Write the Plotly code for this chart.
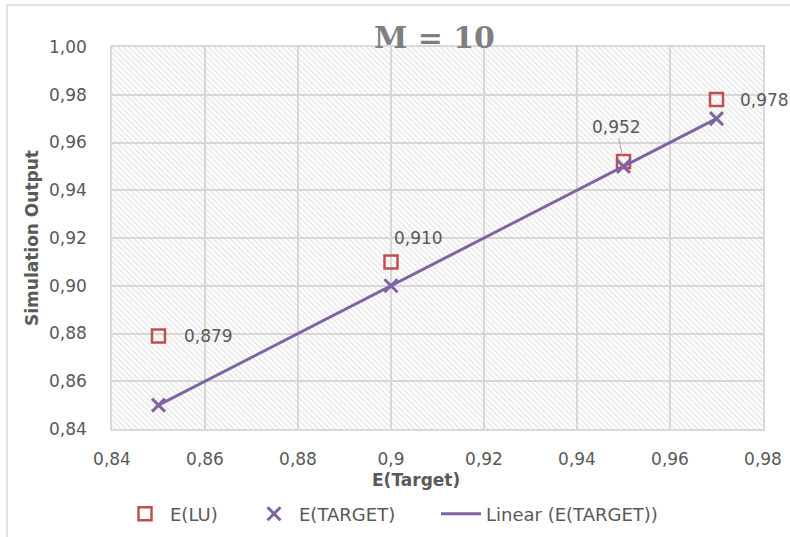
import plotly.graph_objects as go

# Expected value on the x axis, simulated outputs on the y axis
e_target = [0.85, 0.90, 0.95, 0.97]
e_lu = [0.879, 0.910, 0.952, 0.978]
e_target_out = [0.85, 0.90, 0.95, 0.97]

x_ticks = [0.84, 0.86, 0.88, 0.90, 0.92, 0.94, 0.96, 0.98]
x_tick_text = ["0,84", "0,86", "0,88", "0,9", "0,92", "0,94", "0,96", "0,98"]
y_ticks = [0.84, 0.86, 0.88, 0.90, 0.92, 0.94, 0.96, 0.98, 1.00]
y_tick_text = ["0,84", "0,86", "0,88", "0,90", "0,92", "0,94", "0,96", "0,98", "1,00"]

x_range = [0.84, 0.98]
y_range = [0.84, 1.00]

FONT = "DejaVu Sans"
TXT = "#595959"
GRID = "#d9d9d9"
RED = "#c0504d"
PURPLE = "#8064a2"

L, R, T, B = 112, 27, 47, 108
W, H = 790, 537
PW, PH = W - L - R, H - T - B


def px(xp):
    return (xp - L) / PW


def py(yp):
    return (H - B - yp) / PH


fig = go.Figure()

# hatched plot-area background
fig.add_trace(go.Scatter(
    x=[x_range[0], x_range[1], x_range[1], x_range[0], x_range[0]],
    y=[y_range[0], y_range[0], y_range[1], y_range[1], y_range[0]],
    mode="lines", line=dict(width=0), fill="toself",
    fillcolor="rgba(0,0,0,0)",
    fillpattern=dict(shape="\\", fgcolor="#cccccc", bgcolor="rgba(0,0,0,0)",
                     size=4, solidity=0.35),
    showlegend=False, hoverinfo="skip",
))

fig.add_trace(go.Scatter(
    x=e_target, y=e_lu, mode="markers", name="E(LU)", legend="legend",
    marker=dict(symbol="square-open", size=13, color=RED, line=dict(width=2.5, color=RED)),
))
fig.add_trace(go.Scatter(
    x=e_target, y=e_target_out, mode="markers", name="E(TARGET)", legend="legend2",
    marker=dict(symbol="x-thin-open", size=13, color=PURPLE, line=dict(width=3, color=PURPLE)),
))
# linear trendline through the E(TARGET) points (slope 1, intercept 0)
trend_x = [e_target[0], e_target[-1]]
trend_y = [e_target_out[0], e_target_out[-1]]
fig.add_trace(go.Scatter(
    x=trend_x, y=trend_y, mode="lines", name="Linear (E(TARGET))", legend="legend3",
    line=dict(color=PURPLE, width=3),
))

# value labels for E(LU)
offsets = [(50, 0), (27, 24), (-7, 35), (48, 0)]
for xv, yv, (dx, dy) in zip(e_target, e_lu, offsets):
    txt = f"{yv:.3f}".replace(".", ",")
    if (dx, dy) == (-7, 35):
        fig.add_annotation(x=xv, y=yv, text=txt, showarrow=True, arrowhead=0,
                           ax=dx, ay=-dy, arrowcolor="#a6a6a6", arrowwidth=1,
                           standoff=6, font=dict(family=FONT, size=17, color=TXT))
    else:
        fig.add_annotation(x=xv, y=yv, text=txt, showarrow=False,
                           xshift=dx, yshift=dy,
                           font=dict(family=FONT, size=17, color=TXT))

# chart title and axis titles
fig.add_annotation(x=px(434), y=py(37), xref="paper", yref="paper",
                   xanchor="center", yanchor="middle",
                   text="<b>M = 10</b>", showarrow=False,
                   font=dict(family="DejaVu Serif", size=30, color="#7f7f7f"))
fig.add_annotation(x=px(416), y=py(480), xref="paper", yref="paper",
                   xanchor="center", yanchor="middle",
                   text="<b>E(Target)</b>", showarrow=False,
                   font=dict(family=FONT, size=17, color=TXT))
fig.add_annotation(x=px(32), y=py(238), xref="paper", yref="paper",
                   xanchor="center", yanchor="middle",
                   text="<b>Simulation Output</b>", showarrow=False, textangle=-90,
                   font=dict(family=FONT, size=17, color=TXT))

# outer chart border (top and left edges)
fig.add_shape(type="line", xref="paper", yref="paper",
              x0=px(7), x1=px(800), y0=py(5), y1=py(5),
              line=dict(color=GRID, width=1.5))
fig.add_shape(type="line", xref="paper", yref="paper",
              x0=px(7), x1=px(7), y0=py(5), y1=py(545),
              line=dict(color=GRID, width=1.5))

fig.update_xaxes(range=x_range, tickvals=x_ticks, ticktext=x_tick_text,
                 showgrid=True, gridcolor=GRID, gridwidth=1.5,
                 showline=True, mirror=True, linecolor=GRID, linewidth=1.5,
                 zeroline=False, ticks="", ticklabelstandoff=14,
                 tickfont=dict(family=FONT, size=17, color=TXT))
fig.update_yaxes(range=y_range, tickvals=y_ticks, ticktext=y_tick_text,
                 showgrid=True, gridcolor=GRID, gridwidth=1.5,
                 showline=True, mirror=True, linecolor=GRID, linewidth=1.5,
                 zeroline=False, ticks="", ticklabelstandoff=20,
                 tickfont=dict(family=FONT, size=17, color=TXT))

legend_style = dict(orientation="h", xref="container", yref="container",
                    xanchor="left", y=(H - 514) / H, yanchor="middle",
                    font=dict(family=FONT, size=18, color=TXT),
                    bgcolor="rgba(0,0,0,0)", itemwidth=40)

fig.update_layout(
    width=W, height=H,
    margin=dict(l=L, r=R, t=T, b=B, autoexpand=False),
    paper_bgcolor="white", plot_bgcolor="white",
    showlegend=True,
    legend=dict(legend_style, x=(171 - 51) / W),
    legend2=dict(legend_style, x=(300 - 51) / W),
    legend3=dict(legend_style, x=(487 - 51) / W),
)

fig.write_html("out.html")
